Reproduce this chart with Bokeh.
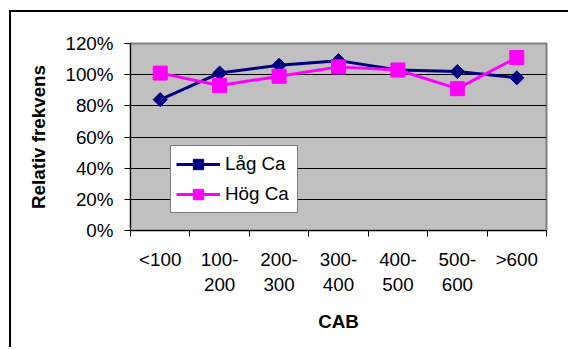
import numpy as np
from bokeh.plotting import figure
from bokeh.models import Range1d, FixedTicker, NumeralTickFormatter, Legend, LegendItem
from bokeh.embed import file_html
from bokeh.resources import INLINE

# ---- data ----
categories = ["<100", "100-\n200", "200-\n300", "300-\n400", "400-\n500", "500-\n600", ">600"]
lag_ca = [0.84, 1.01, 1.06, 1.09, 1.03, 1.02, 0.98]
hog_ca = [1.01, 0.93, 0.99, 1.05, 1.03, 0.91, 1.11]
y_ticks = [0.0, 0.2, 0.4, 0.6, 0.8, 1.0, 1.2]
series_names = ["Låg Ca", "Hög Ca"]
x_title = "CAB"
y_title = "Relativ frekvens"

FONT = "Liberation Sans"
FS = "18.8px"

x = np.arange(len(categories)) + 0.5

p = figure(
    width=559, height=337,
    x_range=Range1d(0, len(categories)), y_range=Range1d(0, 1.2),
    output_backend="svg", toolbar_location=None,
    min_border_left=119, min_border_top=31, min_border_right=24, min_border_bottom=119,
)
p.styles = {"margin-left": "9px", "margin-top": "10px",
            "border-left": "2px solid black", "border-top": "2px solid black"}

p.background_fill_color = "#C0C0C0"
p.border_fill_color = "white"
p.outline_line_color = "#808080"
p.outline_line_width = 2

# y axis
p.yaxis.ticker = FixedTicker(ticks=y_ticks)
p.yaxis.formatter = NumeralTickFormatter(format="0%")
p.yaxis.major_tick_out = 6
p.yaxis.major_tick_in = 0
p.yaxis.minor_tick_out = 0
p.yaxis.minor_tick_in = 0
p.yaxis.major_label_standoff = 11
p.yaxis.axis_label = y_title
p.yaxis.axis_label_standoff = 13

# x axis: labels at category centres, ticks at band boundaries
p.xaxis.ticker = FixedTicker(ticks=list(x), minor_ticks=list(range(len(categories) + 1)))
p.xaxis.major_label_overrides = {float(xi): c for xi, c in zip(x, categories)}
p.xaxis.major_tick_out = 0
p.xaxis.major_tick_in = 0
p.xaxis.minor_tick_out = 6
p.xaxis.minor_tick_in = 0
p.xaxis.major_label_standoff = 12
p.xaxis.axis_label = x_title
p.xaxis.axis_label_standoff = 13

for ax in (p.xaxis, p.yaxis):
    ax.axis_line_color = "black"
    ax.major_tick_line_color = "black"
    ax.minor_tick_line_color = "black"
    ax.major_label_text_font = FONT
    ax.major_label_text_font_size = FS
    ax.major_label_text_color = "black"
    ax.axis_label_text_font = FONT
    ax.axis_label_text_font_size = FS
    ax.axis_label_text_font_style = "bold"
    ax.axis_label_text_color = "black"

p.xgrid.visible = False
p.ygrid.ticker = FixedTicker(ticks=y_ticks)
p.ygrid.grid_line_color = "black"
p.ygrid.grid_line_width = 1

l1 = p.line(x, lag_ca, line_color="#000080", line_width=3)
s1 = p.scatter(x, lag_ca, marker="square", angle=np.pi / 4, size=10,
               fill_color="#000080", line_color="#000080")
l2 = p.line(x, hog_ca, line_color="#FF00FF", line_width=3)
s2 = p.scatter(x, hog_ca, marker="square", size=14,
               fill_color="#FF00FF", line_color="#FF00FF")

legend = Legend(
    items=[LegendItem(label=series_names[0], renderers=[l1, s1]),
           LegendItem(label=series_names[1], renderers=[l2, s2])],
    location=(40, 17), margin=0, padding=5, spacing=4,
    glyph_width=44, glyph_height=26, label_height=26, label_width=67, label_standoff=5,
    label_text_font=FONT, label_text_font_size=FS, label_text_color="black",
    border_line_color="black", border_line_width=1,
    background_fill_color="white", background_fill_alpha=1,
)
p.add_layout(legend)

html = file_html(p, INLINE)
html = html.replace("<head>", "<head><style>html,body{margin:0;padding:0;overflow:hidden;}</style>", 1)
open("out.html", "w").write(html)
